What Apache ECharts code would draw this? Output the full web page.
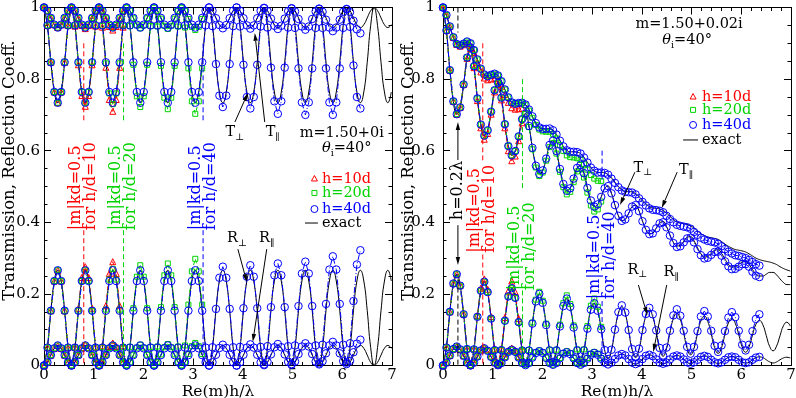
<!DOCTYPE html>
<html>
<head>
<meta charset="utf-8">
<script src="https://cdn.jsdelivr.net/npm/echarts@6.0.0/dist/echarts.min.js"></script>
<style>
  html, body { margin: 0; padding: 0; background: #fff; }
  #main { width: 796px; height: 398px; }
</style>
</head>
<body>
<div id="main"></div>
<script>
// x positions of the samples (Re(m)h/lambda), 8 per oscillation period
const xs = [
  0, 0.069, 0.138, 0.208, 0.277, 0.346, 0.415, 0.484,
  0.553, 0.623, 0.692, 0.761, 0.830, 0.899, 0.968, 1.038,
  1.107, 1.176, 1.245, 1.314, 1.383, 1.453, 1.522, 1.591,
  1.660, 1.729, 1.798, 1.868, 1.937, 2.006, 2.075, 2.144,
  2.213, 2.283, 2.352, 2.421, 2.490, 2.559, 2.628, 2.698,
  2.767, 2.836, 2.905, 2.974, 3.043, 3.113, 3.182, 3.251,
  3.320, 3.389, 3.459, 3.528, 3.597, 3.666, 3.735, 3.804,
  3.874, 3.943, 4.012, 4.081, 4.150, 4.219, 4.289, 4.358,
  4.427, 4.496, 4.565, 4.634, 4.704, 4.773, 4.842, 4.911,
  4.980, 5.049, 5.119, 5.188, 5.257, 5.326, 5.395, 5.464,
  5.534, 5.603, 5.672, 5.741, 5.810, 5.879, 5.949, 6.018,
  6.087, 6.156, 6.225, 6.294, 6.364, 6.433, 6.502, 6.571,
  6.640, 6.709, 6.779, 6.848, 6.917, 6.986
];

// ---- left panel, m = 1.50+0i : exact ----
const tPerpL = [
  1, .950, .847, .764, .734, .764, .847, .950,
  1, .950, .847, .764, .734, .764, .847, .950,
  1, .950, .847, .764, .734, .764, .847, .950,
  1, .950, .847, .764, .734, .764, .847, .950,
  1, .950, .847, .764, .734, .764, .847, .950,
  1, .950, .847, .764, .734, .764, .847, .950,
  1, .950, .847, .764, .734, .764, .847, .950,
  1, .950, .847, .764, .734, .764, .847, .950,
  1, .950, .847, .764, .734, .764, .847, .950,
  1, .950, .847, .764, .734, .764, .847, .950,
  1, .950, .847, .764, .734, .764, .847, .950,
  1, .950, .847, .764, .734, .764, .847, .950,
  1, .950, .847, .764, .734, .764
];
const tParL = [
  1, .991, .971, .952, .944, .952, .971, .991,
  1, .991, .971, .952, .944, .952, .971, .991,
  1, .991, .971, .952, .944, .952, .971, .991,
  1, .991, .971, .952, .944, .952, .971, .991,
  1, .991, .971, .952, .944, .952, .971, .991,
  1, .991, .971, .952, .944, .952, .971, .991,
  1, .991, .971, .952, .944, .952, .971, .991,
  1, .991, .971, .952, .944, .952, .971, .991,
  1, .991, .971, .952, .944, .952, .971, .991,
  1, .991, .971, .952, .944, .952, .971, .991,
  1, .991, .971, .952, .944, .952, .971, .991,
  1, .991, .971, .952, .944, .952, .971, .991,
  1, .991, .971, .952, .944, .952
];
const rPerpL = [
  0, .050, .153, .236, .266, .236, .153, .050,
  0, .050, .153, .236, .266, .236, .153, .050,
  0, .050, .153, .236, .266, .236, .153, .050,
  0, .050, .153, .236, .266, .236, .153, .050,
  0, .050, .153, .236, .266, .236, .153, .050,
  0, .050, .153, .236, .266, .236, .153, .050,
  0, .050, .153, .236, .266, .236, .153, .050,
  0, .050, .153, .236, .266, .236, .153, .050,
  0, .050, .153, .236, .266, .236, .153, .050,
  0, .050, .153, .236, .266, .236, .153, .050,
  0, .050, .153, .236, .266, .236, .153, .050,
  0, .050, .153, .236, .266, .236, .153, .050,
  0, .050, .153, .236, .266, .236
];
const rParL = [
  0, .009, .029, .048, .056, .048, .029, .009,
  0, .009, .029, .048, .056, .048, .029, .009,
  0, .009, .029, .048, .056, .048, .029, .009,
  0, .009, .029, .048, .056, .048, .029, .009,
  0, .009, .029, .048, .056, .048, .029, .009,
  0, .009, .029, .048, .056, .048, .029, .009,
  0, .009, .029, .048, .056, .048, .029, .009,
  0, .009, .029, .048, .056, .048, .029, .009,
  0, .009, .029, .048, .056, .048, .029, .009,
  0, .009, .029, .048, .056, .048, .029, .009,
  0, .009, .029, .048, .056, .048, .029, .009,
  0, .009, .029, .048, .056, .048, .029, .009,
  0, .009, .029, .048, .056, .048
];

// left panel, h=10d
const tPerpL10 = [1, .950, .847, .764, .734, .764, .847, .950, 1, .948, .840, .754, .724, .754, .840, .948, 1, .945, .833, .743, .710, .743, .833, .945];
const tParL10 = [1, .991, .971, .952, .944, .952, .971, .991, 1, .991, .970, .950, .941, .950, .970, .991, 1, .990, .968, .947, .937, .947, .968, .990];
const rPerpL10 = [0, .050, .153, .236, .266, .236, .153, .050, 0, .052, .160, .246, .276, .246, .160, .052, 0, .055, .167, .257, .290, .257, .167, .055];
const rParL10 = [0, .009, .029, .048, .056, .048, .029, .009, 0, .009, .030, .050, .059, .050, .030, .009, 0, .010, .032, .053, .063, .053, .032, .010];

// left panel, h=20d (same as exact for the first two periods)
const tPerpL20 = tPerpL.slice(0, 16).concat([1, .949, .844, .760, .730, .760, .844, .949, 1, .948, .840, .752, .722, .752, .840, .948, 1, .947, .837, .748, .716, .748, .837, .947, 1, .944, .830, .738, .703, .738, .830]);
const tParL20 = tParL.slice(0, 16).concat([1, .991, .970, .951, .943, .951, .970, .991, 1, .991, .970, .950, .942, .950, .970, .991, 1, .990, .969, .949, .940, .949, .969, .990, 1, .990, .968, .946, .937, .946, .968]);
const rPerpL20 = rPerpL.slice(0, 16).concat([0, .051, .156, .240, .270, .240, .156, .051, 0, .052, .160, .248, .280, .248, .160, .052, 0, .053, .163, .252, .285, .252, .163, .053, 0, .056, .170, .263, .298, .263, .170]);
const rParL20 = rParL.slice(0, 16).concat([0, .009, .030, .049, .057, .049, .030, .009, 0, .009, .030, .050, .058, .050, .030, .009, 0, .010, .031, .051, .060, .051, .031, .010, 0, .010, .032, .054, .063, .054, .032]);

// left panel, h=40d (on the exact curves up to x=3.2)
const tPerpL40 = tPerpL.slice(0, 48).concat([1, .948, .842, .754, .722, .754, .842, .948, 1, .947, .840, .750, .718, .750, .840, .947, .998, .944, .832, .738, .703, .738, .832, .944, .997, .943, .830, .735, .700, .735, .830, .943, .996, .943, .830, .735, .700, .735, .830, .943, .995, .946, .838, .750, .718]);
const tParL40 = tParL.slice(0, 48).concat([1, .991, .970, .951, .942, .951, .970, .991, 1, .991, .970, .950, .941, .950, .970, .991, .999, .990, .969, .949, .940, .949, .969, .990, .998, .989, .968, .947, .938, .947, .968, .989, .997, .988, .966, .944, .934, .944, .966, .988, .996, .987, .963, .939, .928]);
const rPerpL40 = rPerpL.slice(0, 48).concat([0, .051, .158, .245, .276, .245, .158, .051, 0, .052, .160, .248, .280, .248, .160, .052, .003, .054, .163, .252, .285, .252, .163, .054, .004, .056, .166, .257, .290, .257, .166, .056, .006, .058, .172, .268, .305, .268, .172, .058, .008, .062, .180, .282, .322]);
const rParL40 = rParL.slice(0, 48).concat([0, .009, .030, .049, .058, .049, .030, .009, 0, .009, .030, .050, .059, .050, .030, .009, .001, .010, .031, .051, .060, .051, .031, .010, .002, .011, .032, .053, .062, .053, .032, .011, .003, .012, .034, .056, .066, .056, .034, .012, .004, .013, .037, .061, .072]);

// ---- right panel, m = 1.50+0.02i : exact ----
const tPerpR = [
  1, .936, .825, .738, .702, .721, .785, .860,
  .888, .836, .746, .673, .642, .657, .709, .769,
  .790, .748, .674, .613, .587, .599, .640, .688,
  .704, .669, .608, .558, .535, .545, .578, .616,
  .628, .599, .549, .507, .488, .495, .522, .552,
  .560, .537, .496, .461, .444, .450, .471, .495,
  .501, .481, .448, .418, .404, .408, .425, .444,
  .448, .432, .404, .380, .368, .370, .384, .398,
  .402, .388, .365, .344, .334, .336, .347, .358,
  .360, .348, .329, .312, .303, .305, .313, .322,
  .323, .313, .297, .283, .275, .276, .282, .289,
  .290, .282, .268, .256, .250, .250, .255, .260,
  .260, .253, .242, .232, .226, .226
];
const tParR = [
  1, .979, .947, .917, .898, .894, .899, .905,
  .900, .881, .855, .829, .813, .808, .812, .815,
  .810, .794, .771, .749, .735, .731, .733, .734,
  .729, .715, .696, .677, .665, .661, .661, .662,
  .657, .645, .628, .612, .601, .597, .597, .596,
  .592, .581, .567, .553, .544, .539, .539, .538,
  .533, .524, .512, .500, .491, .487, .486, .485,
  .480, .472, .462, .452, .444, .440, .439, .437,
  .433, .426, .417, .408, .401, .398, .396, .394,
  .390, .384, .376, .368, .363, .359, .357, .355,
  .352, .346, .339, .333, .328, .324, .322, .320,
  .317, .312, .306, .300, .296, .293, .291, .289,
  .286, .282, .276, .271, .267, .264
];
const rPerpR = [
  0, .050, .150, .229, .255, .223, .143, .046,
  .001, .045, .136, .209, .234, .205, .131, .043,
  .003, .043, .125, .193, .216, .189, .121, .042,
  .006, .042, .117, .179, .200, .175, .113, .042,
  .010, .042, .109, .166, .187, .164, .106, .042,
  .014, .042, .103, .156, .174, .153, .101, .043,
  .018, .043, .098, .146, .164, .144, .096, .044,
  .022, .045, .095, .138, .154, .136, .093, .046,
  .026, .047, .091, .131, .146, .129, .090, .048,
  .030, .048, .089, .125, .138, .123, .088, .050,
  .034, .050, .087, .119, .132, .118, .086, .052,
  .037, .052, .085, .115, .126, .114, .084, .053,
  .041, .054, .083, .111, .121, .110
];
const rParR = [
  0, .008, .028, .046, .053, .045, .027, .008,
  0, .008, .025, .042, .048, .041, .024, .008,
  .001, .007, .023, .038, .044, .038, .022, .007,
  .001, .007, .022, .035, .040, .035, .021, .007,
  .002, .007, .020, .033, .037, .032, .020, .007,
  .002, .007, .019, .030, .035, .030, .019, .008,
  .003, .008, .018, .028, .032, .028, .018, .008,
  .004, .008, .018, .027, .030, .026, .017, .008,
  .005, .008, .017, .025, .028, .025, .017, .009,
  .005, .009, .016, .024, .027, .024, .016, .009,
  .006, .009, .016, .023, .025, .023, .016, .009,
  .007, .009, .016, .022, .024, .022, .016, .010,
  .007, .010, .016, .021, .023, .021
];

// right panel, h=10d
const tPerpR10 = [1, .936, .825, .738, .702, .721, .785, .858, .885, .832, .740, .664, .632, .648, .702, .764, .785, .742, .664, .600, .572, .585, .628, .678];
const tParR10 = [1, .979, .947, .916, .897, .892, .896, .900, .894, .874, .847, .820, .803, .798, .800, .802, .797, .780, .757, .735, .720, .716, .717, .718];
const rPerpR10 = [0, .050, .150, .229, .255, .224, .144, .047, .002, .047, .140, .216, .242, .213, .137, .046, .004, .048, .134, .208, .236, .205, .131, .046];
const rParR10 = [0, .008, .028, .046, .053, .045, .027, .008, 0, .008, .026, .044, .051, .044, .026, .008, .001, .008, .025, .042, .049, .042, .025, .008];

// right panel, h=20d
const tPerpR20 = tPerpR.slice(0, 24).concat([.702, .666, .604, .553, .529, .539, .572, .610, .621, .592, .541, .498, .478, .485, .512, .542, .549, .525, .483, .447, .430, .436, .458]);
const tParR20 = tParR.slice(0, 24).concat([.727, .712, .692, .672, .659, .654, .653, .653, .647, .634, .616, .599, .587, .582, .581, .579, .574, .562, .547, .532, .522, .516, .515]);
const rPerpR20 = rPerpR.slice(0, 24).concat([.006, .043, .120, .184, .206, .181, .117, .044, .011, .044, .114, .174, .196, .172, .112, .045, .015, .045, .110, .167, .187, .164, .108]);
const rParR20 = rParR.slice(0, 24).concat([.001, .007, .023, .037, .042, .037, .022, .008, .002, .008, .021, .035, .040, .035, .021, .008, .003, .008, .021, .033, .038, .033, .021]);

// right panel, h=40d
const tPerpR40 = tPerpR.slice(0, 49).concat([.481, .448, .418, .404, .408, .425, .444, .448, .431, .403, .379, .367, .369, .383, .397, .400, .386, .363, .342, .331, .333, .344, .355, .357, .344, .325, .308, .299, .301, .309, .317, .318, .307, .291, .277, .269, .270, .276, .283, .283, .276, .262, .251, .247]);
const tParR40 = tParR.slice(0, 49).concat([.522, .510, .498, .489, .485, .484, .483, .478, .467, .457, .447, .439, .435, .434, .432, .428, .418, .409, .400, .393, .390, .388, .386, .382, .373, .365, .357, .352, .348, .346, .344, .340, .333, .325, .318, .313, .308, .306, .303, .300, .295, .289, .283, .279]);
const rPerpR40 = rPerpR.slice(0, 49).concat([.044, .100, .149, .168, .148, .099, .046, .023, .047, .099, .144, .161, .143, .098, .049, .028, .050, .097, .140, .157, .139, .097, .052, .033, .052, .096, .137, .152, .137, .097, .055, .038, .056, .096, .134, .149, .135, .097, .058, .042, .058, .096, .130, .143]);
const rParR40 = rParR.slice(0, 93);

const SERIF = '"DejaVu Serif", serif';
const RED = '#ff0000', GREEN = '#00d400', BLUE = '#0000ff';
const MARK = {
  h10: { color: RED, symbol: 'triangle', size: 6, dash: [4, 3], z: 3 },
  h20: { color: GREEN, symbol: 'rect', size: 5, dash: [4, 3], z: 4 },
  h40: { color: BLUE, symbol: 'circle', size: 7.5, dash: [6, 2, 1, 2], z: 5 }
};

function pairs(arr) {
  return arr.map((v, i) => [xs[i], v]);
}
function exactSeries(g, arr) {
  return {
    type: 'line', xAxisIndex: g * 2, yAxisIndex: g * 2, data: pairs(arr),
    smooth: true, symbol: 'none', silent: true, z: 2,
    lineStyle: { color: '#000', width: 1 }
  };
}
function markSeries(g, arr, kind) {
  const m = MARK[kind];
  return {
    type: 'line', xAxisIndex: g * 2, yAxisIndex: g * 2, data: pairs(arr),
    symbol: m.symbol, symbolSize: m.size, showSymbol: true, silent: true, z: m.z,
    lineStyle: { color: m.color, width: 1, type: m.dash },
    itemStyle: { color: 'rgba(0,0,0,0)', borderColor: m.color, borderWidth: 1 }
  };
}

function xAx(g, pos) {
  const bottom = pos === 'bottom';
  return {
    type: 'value', gridIndex: g, position: pos, min: 0, max: 7, interval: 1,
    axisLine: { onZero: false, lineStyle: { color: '#000', width: 1 } },
    axisTick: { inside: true, length: 7, lineStyle: { color: '#000' } },
    minorTick: { show: true, splitNumber: 5, length: 3.5, lineStyle: { color: '#000' } },
    axisLabel: { show: bottom, margin: 2, color: '#000', fontFamily: SERIF, fontSize: 15 },
    splitLine: { show: false },
    name: bottom ? 'Re(m)h/λ' : '', nameLocation: 'middle', nameGap: 18, nameMoveOverlap: false,
    nameTextStyle: { color: '#000', fontFamily: SERIF, fontSize: 15.5 }
  };
}
function yAx(g, pos) {
  const left = pos === 'left';
  return {
    type: 'value', gridIndex: g, position: pos, min: 0, max: 1, interval: 0.2,
    axisLine: { onZero: false, lineStyle: { color: '#000', width: 1 } },
    axisTick: { inside: true, length: 7, lineStyle: { color: '#000' } },
    minorTick: { show: true, splitNumber: 4, length: 3.5, lineStyle: { color: '#000' } },
    axisLabel: {
      show: left, margin: g === 0 ? 4 : 8, color: '#000', fontFamily: SERIF, fontSize: 15,
      formatter: v => (v === 0 ? '0' : v === 1 ? '1' : v.toFixed(1))
    },
    splitLine: { show: false },
    name: left ? 'Transmission, Reflection Coeff.' : '', nameLocation: 'middle', nameGap: 26,
    nameMoveOverlap: false,
    nameTextStyle: { color: '#000', fontFamily: SERIF, fontSize: 16.5, padding: [0, 0, 0, 32] }
  };
}

const series = [];
const panels = [
  { t: tPerpL, tp: tParL, r: rPerpL, rp: rParL,
    h10: [tPerpL10, tParL10, rPerpL10, rParL10],
    h20: [tPerpL20, tParL20, rPerpL20, rParL20],
    h40: [tPerpL40, tParL40, rPerpL40, rParL40] },
  { t: tPerpR, tp: tParR, r: rPerpR, rp: rParR,
    h10: [tPerpR10, tParR10, rPerpR10, rParR10],
    h20: [tPerpR20, tParR20, rPerpR20, rParR20],
    h40: [tPerpR40, tParR40, rPerpR40, rParR40] }
];
panels.forEach((p, g) => {
  [p.t, p.tp, p.r, p.rp].forEach(a => series.push(exactSeries(g, a)));
  ['h10', 'h20', 'h40'].forEach(k => p[k].forEach(a => series.push(markSeries(g, a, k))));
});

const chart = echarts.init(document.getElementById('main'));
chart.setOption({
  animation: false,
  backgroundColor: '#fff',
  grid: [
    { left: 44, top: 7.5, width: 348, height: 358, outerBoundsMode: 'none', containLabel: false },
    { left: 443, top: 7.5, width: 348, height: 358, outerBoundsMode: 'none', containLabel: false }
  ],
  xAxis: [xAx(0, 'bottom'), xAx(0, 'top'), xAx(1, 'bottom'), xAx(1, 'top')],
  yAxis: [yAx(0, 'left'), yAx(0, 'right'), yAx(1, 'left'), yAx(1, 'right')],
  series: series
});

// ---- annotations (placed in data coordinates) ----
const VLINES = [
  [0, 0.8, 0.90, 0.677, RED], [0, 0.8, 0.378, 0, RED],
  [0, 1.6, 0.90, 0.677, GREEN], [0, 1.6, 0.378, 0, GREEN],
  [0, 3.2, 0.90, 0.677, BLUE], [0, 3.2, 0.378, 0, BLUE],
  [1, 0.3, 1.0, 0.93, '#000'], [1, 0.3, 0.24, 0, '#000'],
  [1, 0.8, 0.90, 0.57, RED], [1, 0.8, 0.31, 0, RED],
  [1, 1.6, 0.80, 0.49, GREEN], [1, 1.6, 0.21, 0, GREEN],
  [1, 3.2, 0.60, 0.51, BLUE], [1, 3.2, 0.18, 0, BLUE]
];
const ROT_TEXTS = [
  [0, 0.8, 0.378, RED, '|m|kd=0.5\nfor h/d=10'],
  [0, 1.6, 0.378, GREEN, '|m|kd=0.5\nfor h/d=20'],
  [0, 3.2, 0.378, BLUE, '|m|kd=0.5\nfor h/d=40'],
  [1, 0.3, 0.406, '#000', 'h=0.2λ'],
  [1, 0.8, 0.315, RED, '|m|kd=0.5\nfor h/d=10'],
  [1, 1.6, 0.21, GREEN, '|m|kd=0.5\nfor h/d=20'],
  [1, 3.2, 0.185, BLUE, '|m|kd=0.5\nfor h/d=40']
];
const ARROWS = [
  [0, 3.84, 0.680, 4.10, 0.761], [0, 4.44, 0.680, 4.24, 0.929],
  [0, 3.90, 0.325, 4.08, 0.233], [0, 4.48, 0.325, 4.20, 0.066],
  [1, 3.86, 0.540, 3.56, 0.448], [1, 4.71, 0.540, 4.40, 0.440],
  [1, 3.93, 0.225, 4.11, 0.141], [1, 4.50, 0.225, 4.23, 0.038],
  [1, 0.3, 0.574, 0.3, 0.680], [1, 0.3, 0.392, 0.3, 0.281]
];
const TPERP = [['T', 'n'], ['⊥', 's']], TPAR = [['T', 'n'], ['∥', 's']];
const RPERP = [['R', 'n'], ['⊥', 's']], RPAR = [['R', 'n'], ['∥', 's']];
const THETA = [['θ', 'i'], ['i', 's'], ['=40°', 'n']];
const LABELS = [
  [0, 3.84, 0.652, TPERP], [0, 4.60, 0.652, TPAR],
  [0, 3.88, 0.356, RPERP], [0, 4.48, 0.356, RPAR],
  [0, 5.99, 0.649, [['m=1.50+0i', 'n']]], [0, 6.09, 0.607, THETA],
  [1, 4.02, 0.552, TPERP], [1, 4.89, 0.546, TPAR],
  [1, 3.91, 0.267, RPERP], [1, 4.59, 0.261, RPAR],
  [1, 4.95, 0.954, [['m=1.50+0.02i', 'n']]], [1, 4.91, 0.909, THETA]
];
const LEGEND_ITEMS = [['h=10d', 'h10'], ['h=20d', 'h20'], ['h=40d', 'h40'], ['exact', 'exact']];
const LEGENDS = [
  { g: 0, sx: 5.44, tx: 5.59, ys: [0.521, 0.482, 0.437, 0.398], line: [5.25, 5.51] },
  { g: 1, sx: 5.03, tx: 5.21, ys: [0.750, 0.714, 0.672, 0.630], line: [4.83, 5.13] }
];

const FONTS = {
  n: '14.5px ' + SERIF,
  i: 'italic 14.5px ' + SERIF,
  s: '9.5px ' + SERIF
};
const measure = document.createElement('canvas').getContext('2d');
function P(g, x, y) {
  return chart.convertToPixel({ gridIndex: g }, [x, y]);
}
function textEl(x, y, text, font, fill, align, extra) {
  return Object.assign({
    type: 'text', x: x, y: y, z: 100,
    style: {
      text: text, font: font, fill: fill,
      align: align, textAlign: align, verticalAlign: 'middle', textVerticalAlign: 'middle'
    }
  }, extra || {});
}

const els = [];
VLINES.forEach(v => {
  const a = P(v[0], v[1], v[2]), b = P(v[0], v[1], v[3]);
  els.push({ type: 'line', z: 90, shape: { x1: a[0], y1: a[1], x2: b[0], y2: b[1] },
    style: { stroke: v[4], lineWidth: 1, lineDash: [5, 3] } });
});
ROT_TEXTS.forEach(t => {
  const p = P(t[0], t[1], t[2]);
  const el = textEl(p[0], p[1], t[4], '16px ' + SERIF, t[3], 'left', { rotation: Math.PI / 2 });
  el.style.lineHeight = 15;
  els.push(el);
});
ARROWS.forEach(a => {
  const p1 = P(a[0], a[1], a[2]), p2 = P(a[0], a[3], a[4]);
  const dx = p2[0] - p1[0], dy = p2[1] - p1[1], L = Math.hypot(dx, dy);
  const ux = dx / L, uy = dy / L, hl = 8, hw = 2.2;
  const bx = p2[0] - ux * hl, by = p2[1] - uy * hl;
  els.push({ type: 'line', z: 95, shape: { x1: p1[0], y1: p1[1], x2: bx, y2: by },
    style: { stroke: '#000', lineWidth: 1 } });
  els.push({ type: 'polygon', z: 95,
    shape: { points: [[p2[0], p2[1]], [bx - uy * hw, by + ux * hw], [bx + uy * hw, by - ux * hw]] },
    style: { fill: '#000' } });
});
LABELS.forEach(l => {
  const p = P(l[0], l[1], l[2]);
  const widths = l[3].map(part => { measure.font = FONTS[part[1]]; return measure.measureText(part[0]).width; });
  let cx = p[0] - widths.reduce((s, w) => s + w, 0) / 2;
  l[3].forEach((part, i) => {
    els.push(textEl(cx, p[1] + (part[1] === 's' ? 5 : 0), part[0], FONTS[part[1]], '#000', 'left'));
    cx += widths[i];
  });
});
LEGENDS.forEach(lg => {
  LEGEND_ITEMS.forEach((it, i) => {
    const y = lg.ys[i];
    const color = it[1] === 'exact' ? '#000' : MARK[it[1]].color;
    const s = P(lg.g, lg.sx, y), t = P(lg.g, lg.tx, y);
    if (it[1] === 'h10') {
      els.push({ type: 'polygon', z: 100, shape: { points: [[s[0], s[1] - 3.5], [s[0] - 3, s[1] + 2], [s[0] + 3, s[1] + 2]] },
        style: { fill: 'none', stroke: color, lineWidth: 1 } });
    } else if (it[1] === 'h20') {
      els.push({ type: 'rect', z: 100, shape: { x: s[0] - 2.5, y: s[1] - 2.5, width: 5, height: 5 },
        style: { fill: 'none', stroke: color, lineWidth: 1 } });
    } else if (it[1] === 'h40') {
      els.push({ type: 'circle', z: 100, shape: { cx: s[0], cy: s[1], r: 3.5 },
        style: { fill: 'none', stroke: color, lineWidth: 1 } });
    } else {
      const a = P(lg.g, lg.line[0], y), b = P(lg.g, lg.line[1], y);
      els.push({ type: 'line', z: 100, shape: { x1: a[0], y1: a[1], x2: b[0], y2: b[1] },
        style: { stroke: '#000', lineWidth: 1 } });
    }
    els.push(textEl(t[0], t[1], it[0], FONTS.n, color, 'left'));
  });
});

chart.setOption({ graphic: { elements: els } });
</script>
</body>
</html>
